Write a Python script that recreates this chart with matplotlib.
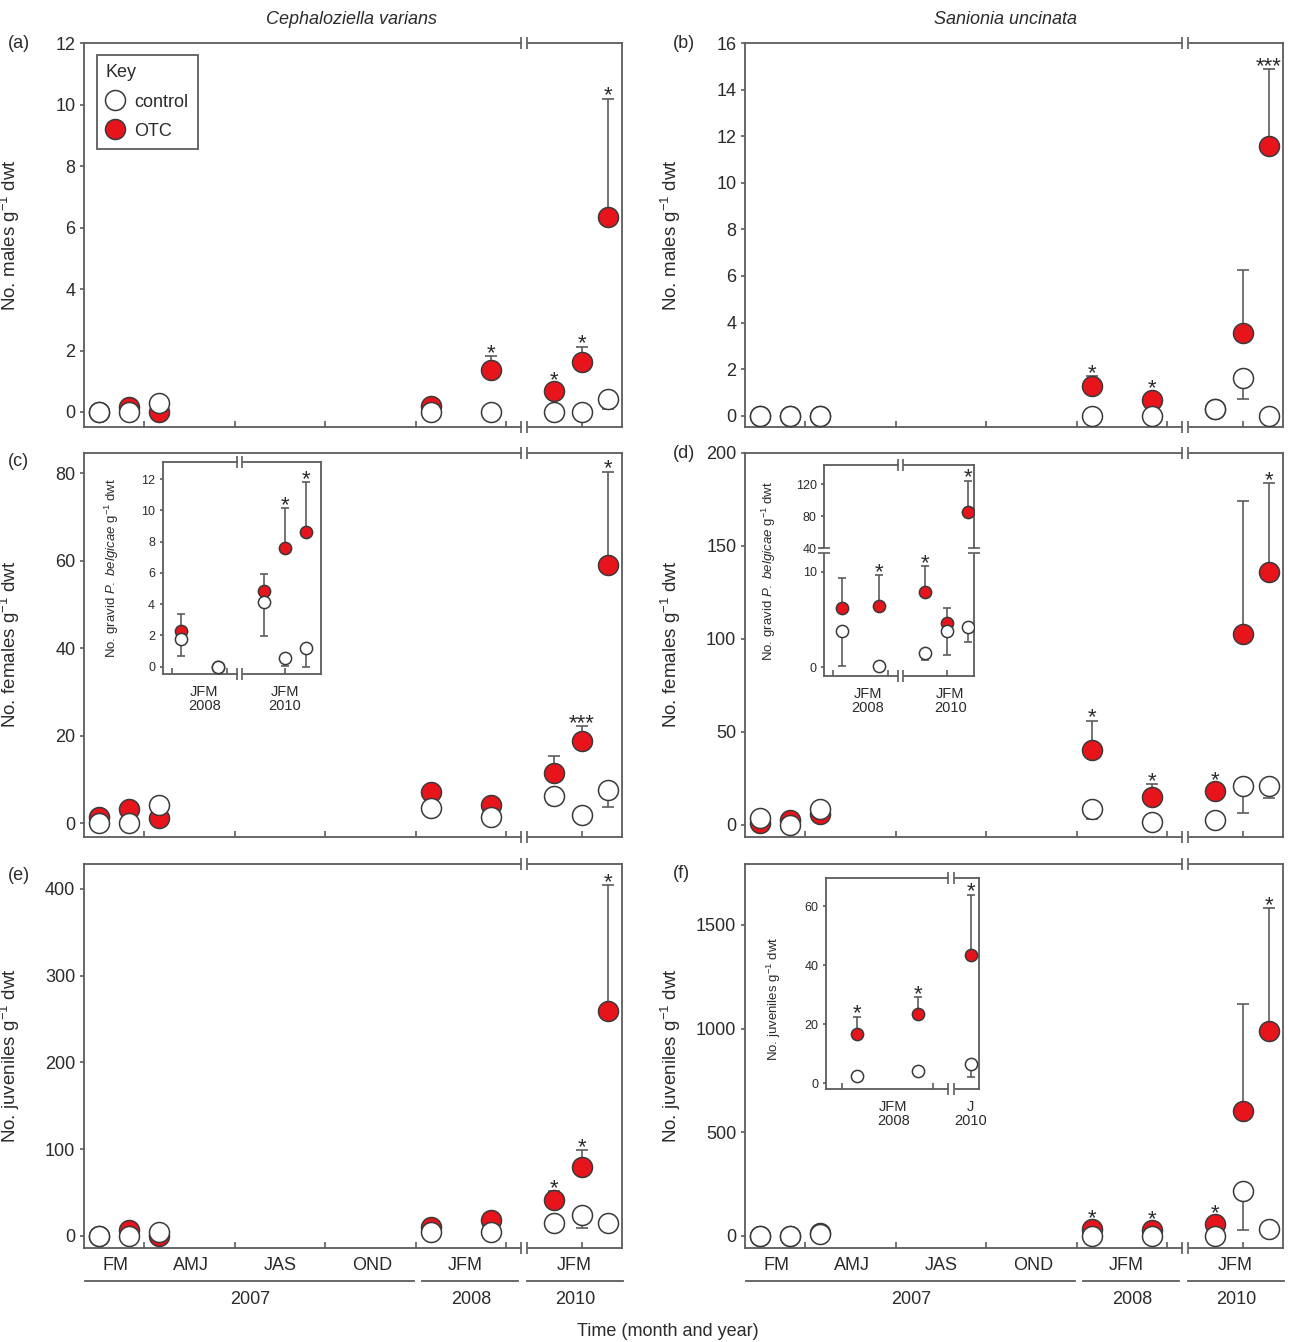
import numpy as np
import matplotlib
matplotlib.use("Agg")
import matplotlib.pyplot as plt
from matplotlib.lines import Line2D

plt.rcParams['font.family'] = ['Liberation Sans', 'DejaVu Sans']
plt.rcParams['mathtext.fontset'] = 'custom'
plt.rcParams['mathtext.rm'] = 'Liberation Sans'
plt.rcParams['mathtext.it'] = 'Liberation Sans:italic'

RED = '#e8141c'
EDGE = '#3a3a3a'
SPINE = '#5c5c5c'
TXT = '#2b2b2b'

# sampling occasions (main panels)
samples = ["Feb 2007", "Mar 2007", "Apr 2007", "Jan 2008", "Mar 2008",
           "Jan 2010", "Feb 2010", "Mar 2010"]
main_x = [1.5, 2.5, 3.5, 12.5, 14.5, 16.57, 17.5, 18.37]

# (a) Cephaloziella varians - males
cv_m_ctrl = [0, 0, 0.3, 0, 0, 0, 0, 0.43]
cv_m_ctrl_lo = [0, 0, 0, 0, 0, 0, 0, 0.35]
cv_m_otc = [0, 0.15, 0, 0.2, 1.37, 0.69, 1.63, 6.35]
cv_m_otc_hi = [0, 0, 0, 0, 0.45, 0, 0.5, 3.85]
cv_m_stars = ["", "", "", "", "*", "*", "*", "*"]

# (b) Sanionia uncinata - males
su_m_ctrl = [0, 0, 0, 0, 0, 0.3, 1.62, 0]
su_m_ctrl_lo = [0, 0, 0, 0, 0, 0, 0.9, 0]
su_m_otc = [0, 0, 0, 1.26, 0.69, 0.28, 3.55, 11.6]
su_m_otc_hi = [0, 0, 0, 0.43, 0, 0, 2.72, 3.28]
su_m_stars = ["", "", "", "*", "*", "", "", "***"]

# (c) C. varians - females
cv_f_ctrl = [0, 0, 4.05, 3.5, 1.37, 6.1, 1.76, 7.63]
cv_f_ctrl_lo = [0, 0, 0, 0, 0, 2.05, 0, 3.97]
cv_f_otc = [1.5, 3.3, 1.15, 7.1, 4.05, 11.45, 18.8, 59.0]
cv_f_otc_hi = [0, 0, 0, 0, 0, 3.8, 3.4, 21.4]
cv_f_stars = ["", "", "", "", "", "", "***", "*"]

# (d) S. uncinata - females
su_f_ctrl = [3.9, 0, 8.4, 8.4, 1.4, 2.7, 20.6, 20.6]
su_f_ctrl_lo = [0, 0, 0, 5.2, 0, 0, 14.0, 6.3]
su_f_otc = [0.9, 2.7, 5.9, 40.4, 15.2, 17.9, 102.6, 135.8]
su_f_otc_hi = [0, 0, 0, 15.6, 6.7, 0, 71.7, 47.7]
su_f_stars = ["", "", "", "*", "*", "*", "", "*"]

# (e) C. varians - juveniles
cv_j_ctrl = [0, 0, 4.6, 3.8, 4.6, 14.2, 23.8, 14.2]
cv_j_ctrl_lo = [0, 0, 0, 0, 0, 0, 15.3, 0]
cv_j_otc = [0, 6.5, 0, 10.4, 18, 41.2, 79.6, 259.6]
cv_j_otc_hi = [0, 0, 0, 0, 0, 10.8, 19.2, 144.2]
cv_j_stars = ["", "", "", "", "", "*", "*", "*"]

# (f) S. uncinata - juveniles
su_j_ctrl = [0, 0, 8, 0, 0, 0, 217, 35]
su_j_ctrl_lo = [0, 0, 0, 0, 0, 0, 190, 0]
su_j_otc = [0, 0, 14, 35, 30, 56, 604, 990]
su_j_otc_hi = [0, 0, 0, 0, 0, 0, 515, 591]
su_j_stars = ["", "", "", "*", "*", "*", "", "*"]

# insets: gravid females (c, d) and S. uncinata juveniles (f)
in_c_x = [12.5, 14.5, 17.04, 18.17, 19.3]
in_c_ctrl = [1.77, 0, 4.12, 0.53, 1.22]
in_c_ctrl_lo = [1.07, 0, 2.14, 0.48, 1.22]
in_c_otc = [2.28, 0, 4.84, 7.57, 8.59]
in_c_otc_hi = [1.07, 0, 1.06, 2.6, 3.2]
in_c_stars = ["", "", "", "*", "*"]

in_d_x = [12.5, 14.5, 17.0, 18.17, 19.31]
in_d_ctrl = [3.83, 0.17, 1.46, 3.83, 4.25]
in_d_ctrl_lo = [3.66, 0, 0.7, 2.54, 1.57]
in_d_otc = [6.23, 6.41, 7.91, 4.6, 85.8]
in_d_otc_hi = [3.14, 3.24, 2.69, 1.63, 38.7]
in_d_stars = ["", "*", "*", "", "*"]

in_f_x = [12.5, 14.5, 16.24]
in_f_ctrl = [2.6, 4.3, 6.45]
in_f_ctrl_lo = [0, 0, 4.2]
in_f_otc = [16.75, 23.5, 43.4]
in_f_otc_hi = [5.85, 5.7, 20.6]
in_f_stars = ["*", "*", "*"]

month_labels = ["FM", "AMJ", "JAS", "OND", "JFM", "JFM"]
month_x = [2.05, 4.55, 7.5, 10.55, 13.65, 17.25]
year_labels = ["2007", "2008", "2010"]
year_x = [6.5, 13.85, 17.3]
year_spans = [(1.05, 11.95), (12.2, 15.4), (15.67, 18.85)]

fig = plt.figure(figsize=(12.89, 13.42), dpi=100)


def draw_series(ax, x, ctrl, ctrl_lo, otc, otc_hi, stars, ms, cap, no_err_off):
    x = np.array(x); ctrl = np.array(ctrl, float); otc = np.array(otc, float)
    ctrl_lo = np.array(ctrl_lo, float); otc_hi = np.array(otc_hi, float)
    m = otc_hi > 0
    if m.any():
        ax.errorbar(x[m], otc[m], yerr=[np.zeros(m.sum()), otc_hi[m]], fmt='none',
                    ecolor=SPINE, elinewidth=1.2, capsize=cap, capthick=1.2, zorder=2)
    ax.plot(x, otc, 'o', ls='none', ms=ms, mfc=RED, mec=EDGE, mew=1.1, zorder=3)
    m = ctrl_lo > 0
    if m.any():
        ax.errorbar(x[m], ctrl[m], yerr=[ctrl_lo[m], np.zeros(m.sum())], fmt='none',
                    ecolor=SPINE, elinewidth=1.2, capsize=cap, capthick=1.2, zorder=4)
    ax.plot(x, ctrl, 'o', ls='none', ms=ms, mfc='white', mec=EDGE, mew=1.1, zorder=5)
    for xi, yi, hi, s in zip(x, otc, otc_hi, stars):
        if s:
            ax.annotate(s, (xi, yi + hi), xytext=(0, -2.2 if hi > 0 else no_err_off),
                        textcoords='offset points', ha='center', va='baseline',
                        fontsize=16, color=TXT, zorder=6)


def x_break(ax, xa, xb, size):
    tr = ax.get_xaxis_transform()
    for yy in (0, 1):
        ax.plot([xa, xb], [yy, yy], color='white', lw=3.5, transform=tr, clip_on=False,
                zorder=7, solid_capstyle='butt')
        ax.plot([xa, xb], [yy, yy], ls='none', marker='|', ms=size, mew=1.2, color=SPINE,
                transform=tr, clip_on=False, zorder=8)


def y_break(ax, ya, yb, size):
    tr = ax.get_yaxis_transform()
    for xx in (0, 1):
        ax.plot([xx, xx], [ya, yb], color='white', lw=3.5, transform=tr, clip_on=False,
                zorder=7, solid_capstyle='butt')
        ax.plot([xx, xx], [ya, yb], ls='none', marker='_', ms=size, mew=1.2, color=SPINE,
                transform=tr, clip_on=False, zorder=8)


def style_axes(ax, tick_size, xlen, ylen):
    for sp in ax.spines.values():
        sp.set_color(SPINE)
        sp.set_linewidth(1.3)
    ax.tick_params(axis='x', direction='in', length=xlen, width=1.2, color=SPINE,
                   labelbottom=False)
    ax.tick_params(axis='y', direction='out', length=ylen, width=1.2, color=SPINE,
                   labelsize=tick_size, labelcolor=TXT, pad=3)


def main_panel(rect, ctrl, ctrl_lo, otc, otc_hi, stars, ylim, yticks, ylabel, bottom):
    ax = fig.add_axes(rect)
    draw_series(ax, main_x, ctrl, ctrl_lo, otc, otc_hi, stars, 14.4, 4, 3.5)
    style_axes(ax, 13, 4.5, 3)
    ax.set_xticks([3, 6, 9, 12, 15, 17.5])
    ax.set_yticks(yticks)
    ax.set_ylabel(ylabel, fontsize=13.5, color=TXT)
    ax.yaxis.set_label_coords(-0.1146, 0.5)
    x_break(ax, 15.48, 15.68, 9)
    if bottom:
        shift = matplotlib.transforms.ScaledTranslation(0, -24 / 72, fig.dpi_scale_trans)
        for lab, xm in zip(month_labels, month_x):
            ax.annotate(lab, (xm, 0), xycoords=('data', 'axes fraction'), xytext=(0, -13.3),
                        textcoords='offset points', ha='center', va='center',
                        fontsize=13, color=TXT)
        for lab, xm, (x0, x1) in zip(year_labels, year_x, year_spans):
            ax.annotate(lab, (xm, 0), xycoords=('data', 'axes fraction'), xytext=(0, -37.8),
                        textcoords='offset points', ha='center', va='center',
                        fontsize=13, color=TXT)
            ax.add_line(Line2D([x0, x1], [0, 0], color=SPINE, lw=1.3, clip_on=False,
                               transform=ax.get_xaxis_transform() + shift))
    ax.set_xlim(1.0, 18.84)
    ax.set_ylim(*ylim)
    return ax


def inset_panel(rect, x, ctrl, ctrl_lo, otc, otc_hi, stars, xlim, xb, xticks, ylim, yticks,
                ylabel, lab_x, labels, ylab_pos, scale=None):
    ax = fig.add_axes(rect)
    ax.set_facecolor('white')
    if scale is not None:
        ax.set_yscale('function', functions=scale)
    draw_series(ax, x, ctrl, ctrl_lo, otc, otc_hi, stars, 8.8, 3.2, 3.5)
    style_axes(ax, 9, 4, 2.5)
    ax.set_xticks(xticks)
    ax.set_yticks(yticks)
    ax.set_yticklabels([str(t) for t in yticks])
    ax.set_ylabel(ylabel, fontsize=9.5, color=TXT)
    ax.yaxis.set_label_coords(*ylab_pos)
    x_break(ax, xb[0], xb[1], 8)
    for xm, lab in zip(lab_x, labels):
        ax.annotate(lab, (xm, 0), xycoords=('data', 'axes fraction'), xytext=(0, -18),
                    textcoords='offset points', ha='center', va='center', fontsize=10.5,
                    color=TXT, linespacing=1.0)
    ax.set_xlim(*xlim)
    ax.set_ylim(*ylim)
    return ax


L = 83.7 / 1289
R = 744.7 / 1289
W = 538.5 / 1289
H = 383.7 / 1342
rows = [1 - 427 / 1342, 1 - 836.5 / 1342, 1 - 1247.5 / 1342]

ax_a = main_panel([L, rows[0], W, H], cv_m_ctrl, cv_m_ctrl_lo, cv_m_otc, cv_m_otc_hi, cv_m_stars,
                  (-0.49, 12), range(0, 13, 2), r"No. males g$^{-1}$ dwt", False)
ax_b = main_panel([R, rows[0], W, H], su_m_ctrl, su_m_ctrl_lo, su_m_otc, su_m_otc_hi, su_m_stars,
                  (-0.49, 16), range(0, 17, 2), r"No. males g$^{-1}$ dwt", False)
ax_c = main_panel([L, rows[1], W, H], cv_f_ctrl, cv_f_ctrl_lo, cv_f_otc, cv_f_otc_hi, cv_f_stars,
                  (-3.05, 84.7), range(0, 81, 20), r"No. females g$^{-1}$ dwt", False)
ax_d = main_panel([R, rows[1], W, H], su_f_ctrl, su_f_ctrl_lo, su_f_otc, su_f_otc_hi, su_f_stars,
                  (-6.3, 200), range(0, 201, 50), r"No. females g$^{-1}$ dwt", False)
ax_e = main_panel([L, rows[2], W, H], cv_j_ctrl, cv_j_ctrl_lo, cv_j_otc, cv_j_otc_hi, cv_j_stars,
                  (-13.5, 428.8), range(0, 401, 100), r"No. juveniles g$^{-1}$ dwt", True)
ax_f = main_panel([R, rows[2], W, H], su_j_ctrl, su_j_ctrl_lo, su_j_otc, su_j_otc_hi, su_j_stars,
                  (-56, 1795), range(0, 1501, 500), r"No. juveniles g$^{-1}$ dwt", True)

# legend
handles = [Line2D([], [], marker='o', ls='none', ms=14.4, mfc='white', mec=EDGE, mew=1.1),
           Line2D([], [], marker='o', ls='none', ms=14.4, mfc=RED, mec=EDGE, mew=1.1)]
leg = ax_a.legend(handles, ["control", "OTC"], title="Key", loc='upper left',
                  bbox_to_anchor=(0.024, 0.969), fontsize=13, title_fontsize=13,
                  fancybox=False, edgecolor=SPINE, framealpha=1, borderpad=0.5,
                  handlelength=1.0, handletextpad=0.6, labelspacing=0.68,
                  alignment='left', borderaxespad=0)
leg.get_frame().set_linewidth(1.3)
for t in leg.get_texts():
    t.set_color(TXT)
leg.get_title().set_color(TXT)

# broken y-axis mapping for inset (d)
B0, B1, K = 12.0, 34.6, 0.0837
EPS = 1e-3


def fwd(y):
    y = np.asarray(y, float)
    return np.where(y <= B0, y,
                    np.where(y <= B1, B0 + (y - B0) * EPS, B0 + (B1 - B0) * EPS + (y - B1) * K))


def inv(f):
    f = np.asarray(f, float)
    mid = B0 + (B1 - B0) * EPS
    return np.where(f <= B0, f,
                    np.where(f <= mid, B0 + (f - B0) / EPS, B1 + (f - mid) / K))


gravid_lab = r"No. gravid $\it{P.}$ $\it{belgicae}$ g$^{-1}$ dwt"
in_c = inset_panel([162.7 / 1289, 1 - 674.3 / 1342, 158 / 1289, 212 / 1342],
                   in_c_x, in_c_ctrl, in_c_ctrl_lo, in_c_otc, in_c_otc_hi, in_c_stars,
                   (11.5, 20.12), (15.54, 15.84), [12, 15, 18.17], (-0.49, 13.07),
                   list(range(0, 13, 2)), gravid_lab, [13.77, 18.17],
                   ["JFM\n2008", "JFM\n2010"], (-0.265, 0.5))
in_d = inset_panel([824.3 / 1289, 1 - 676 / 1342, 149.7 / 1289, 211 / 1342],
                   in_d_x, in_d_ctrl, in_d_ctrl_lo, in_d_otc, in_d_otc_hi, in_d_stars,
                   (11.55, 19.64), (15.52, 15.82), [12, 15, 18.17], (-0.91, 144),
                   [0, 10, 40, 80, 120], gravid_lab, [13.91, 18.35],
                   ["JFM\n2008", "JFM\n2010"], (-0.307, 0.5), scale=(fwd, inv))
y_break(in_d, 12.03, 40.6, 9)
in_f = inset_panel([826 / 1289, 1 - 1089 / 1342, 153.3 / 1289, 210.7 / 1342],
                   in_f_x, in_f_ctrl, in_f_ctrl_lo, in_f_otc, in_f_otc_hi, in_f_stars,
                   (11.49, 16.52), (15.5, 15.7), [12, 15], (-1.95, 69.5),
                   [0, 20, 40, 60], r"No. juveniles g$^{-1}$ dwt", [13.7, 16.24],
                   ["JFM\n2008", "J\n2010"], (-0.279, 0.43))

# titles, panel letters, common x label
fig.text(352 / 1289, 1 - 19 / 1342, "Cephaloziella varians", style='italic', fontsize=13,
         ha='center', va='center', color=TXT)
fig.text(1006 / 1289, 1 - 19 / 1342, "Sanionia uncinata", style='italic', fontsize=13,
         ha='center', va='center', color=TXT)
for lab, px, py in [("(a)", 8, 44), ("(b)", 673, 44), ("(c)", 8, 461),
                    ("(d)", 673, 453), ("(e)", 8, 876), ("(f)", 673, 874)]:
    fig.text(px / 1289, 1 - py / 1342, lab, fontsize=13, ha='left', va='center', color=TXT)
fig.text(668 / 1289, 1 - 1331 / 1342, "Time (month and year)", fontsize=13,
         ha='center', va='center', color=TXT)

fig.savefig("out.png", dpi=100)
